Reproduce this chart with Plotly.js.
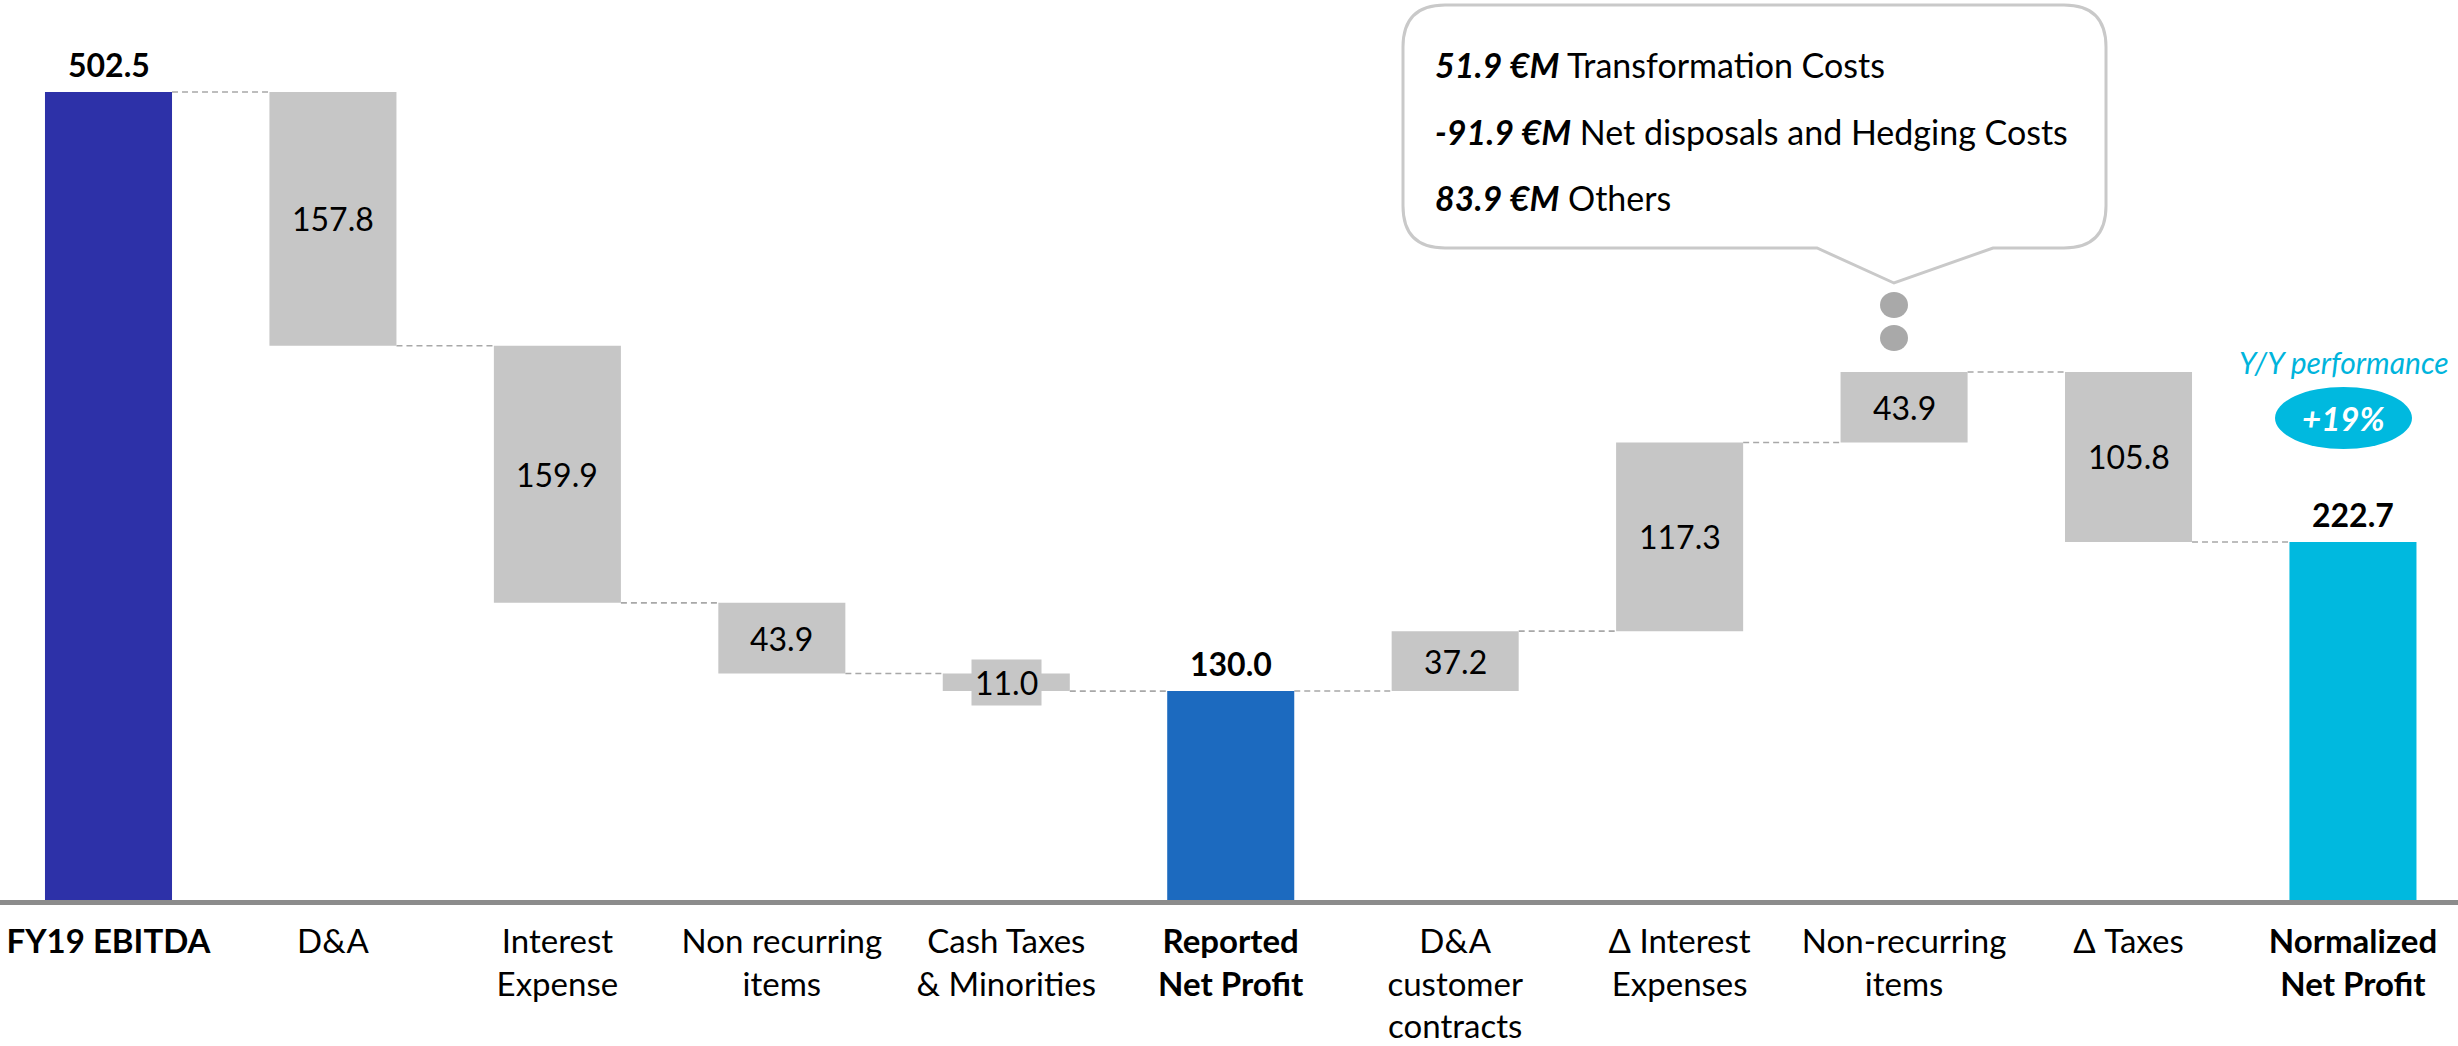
<!DOCTYPE html>
<html><head><meta charset="utf-8">
<script src="https://cdn.plot.ly/plotly-3.0.1.min.js"></script>
<style>html,body{margin:0;padding:0;background:#fff}#chart{width:2458px;height:1046px}</style>
</head><body><div id="chart"></div>
<script>
// ---- data ----
const categories = ['FY19 EBITDA','D&A','Interest<br>Expense','Non recurring<br>items','Cash Taxes<br>& Minorities','Reported<br>Net Profit','D&A<br>customer<br>contracts','Δ Interest<br>Expenses','Non-recurring<br>items','Δ Taxes','Normalized<br>Net Profit'];
const values = [502.5, -157.8, -159.9, -43.9, -11.0, 130.0, 37.2, 117.3, 43.9, -105.8, 222.7];
const measures = ['total','relative','relative','relative','relative','total','relative','relative','relative','relative','total'];
const calloutValues = ['51.9 €M', '-91.9 €M', '83.9 €M'];
const calloutLabels = ['Transformation Costs', 'Net disposals and Hedging Costs', 'Others'];
const yoyLabel = 'Y/Y performance';
const yoyValue = '+19%';

// ---- styles ----
const totalColors = {0:'#2D31A8', 5:'#1C6ABF', 10:'#00B9DF'};
const greyBar = '#C6C6C6';
const FONT = 'Lato, "Open Sans", sans-serif';
const W = 2458, PH = 900; // plot width / height in px
const barW = 0.566;

// ---- derive waterfall geometry from data ----
const bases = [], heights = [], ends = [], colors = [];
let run = 0;
values.forEach((v, i) => {
  if (measures[i] === 'total') {
    bases.push(0); heights.push(v); run = v;
    colors.push(totalColors[i]);
  } else {
    const nxt = run + v;
    bases.push(Math.min(run, nxt)); heights.push(Math.abs(v)); run = nxt;
    colors.push(greyBar);
  }
  ends.push(run);
});
const xs = values.map((_, i) => i);

const trace = {
  type: 'bar', x: xs, y: heights, base: bases,
  marker: {color: colors, line: {width: 0}},
  width: barW, hoverinfo: 'skip', showlegend: false
};

const shapes = [];
// connectors
for (let i = 0; i < values.length - 1; i++) {
  shapes.push({type: 'line', xref: 'x', yref: 'y',
    x0: i + barW / 2, x1: i + 1 - barW / 2, y0: ends[i], y1: ends[i],
    line: {color: '#A8A8A8', width: 1.6, dash: '6px,4px'}, layer: 'below'});
}
// helpers px -> paper
const px = x => x / W, py = y => 1 - y / PH;
const P = (x, y) => px(x) + ',' + py(y);
// callout bubble
(function () {
  const L = 1403, R = 2106, T = 5, B = 248, r = 42, t1 = 1817, t2 = 1993, tipX = 1894, tipY = 283;
  const d = 'M' + P(L + r, T) + ' L' + P(R - r, T) + ' Q' + P(R, T) + ' ' + P(R, T + r) +
    ' L' + P(R, B - r) + ' Q' + P(R, B) + ' ' + P(R - r, B) + ' L' + P(t2, B) + ' L' + P(tipX, tipY) +
    ' L' + P(t1, B) + ' L' + P(L + r, B) + ' Q' + P(L, B) + ' ' + P(L, B - r) + ' L' + P(L, T + r) +
    ' Q' + P(L, T) + ' ' + P(L + r, T) + ' Z';
  shapes.push({type: 'path', xref: 'paper', yref: 'paper', path: d,
    fillcolor: '#FFFFFF', line: {color: '#C9C9C9', width: 3}});
  [[305], [338]].forEach(([cy]) => {
    shapes.push({type: 'circle', xref: 'paper', yref: 'paper',
      x0: px(tipX - 14), x1: px(tipX + 14), y0: py(cy + 13), y1: py(cy - 13),
      fillcolor: '#A9A9A9', line: {width: 0}});
  });
  // yoy ellipse
  shapes.push({type: 'circle', xref: 'paper', yref: 'paper',
    x0: px(2275), x1: px(2412), y0: py(449), y1: py(387),
    fillcolor: '#00B9DF', line: {width: 0}});
})();

const annotations = [];
values.forEach((v, i) => {
  if (measures[i] === 'total') {
    annotations.push({x: i, y: heights[i], xref: 'x', yref: 'y', text: '<b>' + v.toFixed(1) + '</b>',
      showarrow: false, yanchor: 'middle', yshift: 27, font: {family: FONT, size: 32, color: '#000'}});
  } else {
    annotations.push({x: i, y: bases[i] + heights[i] / 2, xref: 'x', yref: 'y', text: Math.abs(v).toFixed(1),
      showarrow: false, yanchor: 'middle', bgcolor: greyBar, borderpad: 3,
      font: {family: FONT, size: 32, color: '#000'}});
  }
});
const lineY = [65, 131, 197];
calloutValues.forEach((cv, k) => {
  annotations.push({xref: 'paper', yref: 'paper', x: px(1433), y: py(lineY[k]), xanchor: 'left', yanchor: 'middle',
    showarrow: false, text: '<b><i>' + cv + '</i></b> ' + calloutLabels[k],
    font: {family: FONT, size: 34, color: '#000'}});
});
annotations.push({xref: 'paper', yref: 'paper', x: px(2344), y: py(362), xanchor: 'center', yanchor: 'middle',
  showarrow: false, text: '<i>' + yoyLabel + '</i>', font: {family: FONT, size: 30, color: '#00B4DC'}});
annotations.push({xref: 'paper', yref: 'paper', x: px(2343), y: py(418), xanchor: 'center', yanchor: 'middle',
  showarrow: false, text: '<b><i>' + yoyValue + '</i></b>', font: {family: FONT, size: 33, color: '#FFFFFF'}});

const tickText = categories.map((c, i) => measures[i] === 'total' ? '<b>' + c + '</b>' : c);

const layout = {
  width: W, height: 1046,
  margin: {l: 0, r: 0, t: 0, b: 146, pad: 0},
  paper_bgcolor: '#FFFFFF', plot_bgcolor: '#FFFFFF',
  bargap: 0.434,
  xaxis: {range: [-0.4834, 10.468], tickmode: 'array', tickvals: xs, ticktext: tickText,
    showgrid: false, zeroline: false, showline: true, linecolor: '#8C8C8C', linewidth: 5,
    ticks: '', ticklabelstandoff: 8, tickfont: {family: FONT, size: 33, color: '#000'}, fixedrange: true},
  yaxis: {range: [0, 559.7], visible: false, showgrid: false, zeroline: false, fixedrange: true},
  shapes: shapes, annotations: annotations,
  font: {family: FONT}
};
Plotly.newPlot('chart', [trace], layout, {displayModeBar: false, staticPlot: true});
</script></body></html>
